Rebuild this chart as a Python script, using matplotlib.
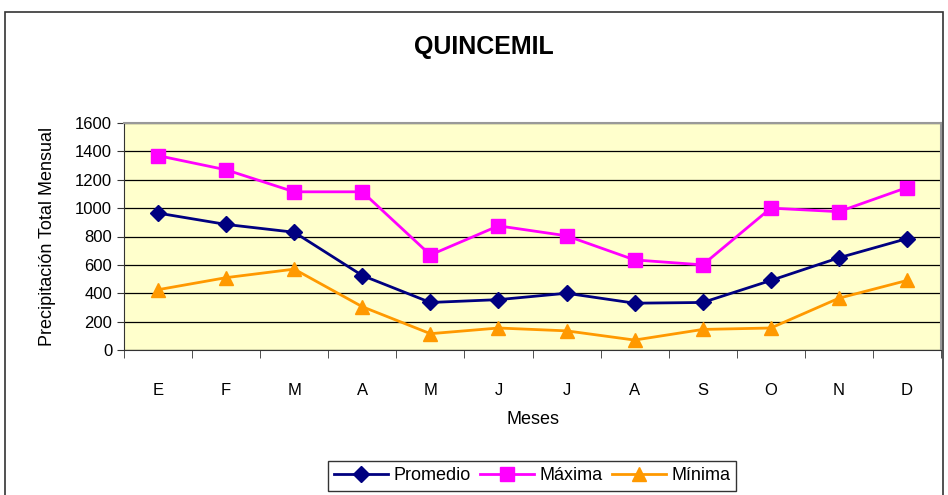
import matplotlib.pyplot as plt
from matplotlib.patches import Rectangle

plt.rcParams['font.family'] = ['Liberation Sans', 'DejaVu Sans']

meses = ["E", "F", "M", "A", "M", "J", "J", "A", "S", "O", "N", "D"]
promedio = [965, 885, 830, 525, 335, 355, 400, 330, 335, 490, 650, 785]
maxima = [1370, 1270, 1115, 1115, 670, 875, 805, 635, 600, 1000, 975, 1145]
minima = [425, 510, 570, 305, 115, 155, 135, 70, 145, 155, 365, 490]

fig = plt.figure(figsize=(9.48, 4.95), dpi=100)
# marco exterior del grafico
fig.patches.append(Rectangle((5 / 948, -0.05), 938 / 948, 1 - 12 / 495 + 0.05,
                             transform=fig.transFigure, fill=False,
                             edgecolor='#333333', linewidth=1.2))

ax = fig.add_axes([124 / 948, 1 - 350 / 495, (941 - 124) / 948, (350 - 123) / 495])
ax.set_facecolor('#FFFFCC')

x = list(range(len(meses)))
ax.plot(x, promedio, color='#000080', marker='D', markersize=8, linewidth=2, label='Promedio')
ax.plot(x, maxima, color='#FF00FF', marker='s', markersize=10, linewidth=2, label='Máxima')
ax.plot(x, minima, color='#FF9900', marker='^', markersize=10, linewidth=2, label='Mínima')

ax.set_xlim(-0.5, len(meses) - 0.5)
ax.set_ylim(0, 1600)
ax.set_yticks(range(0, 1601, 200))
ax.set_xticks(x)
ax.set_xticklabels(meses)
ax.set_xticks([i - 0.5 for i in range(len(meses) + 1)], minor=True)
ax.tick_params(axis='x', which='major', length=0, pad=24, labelsize=12)
ax.tick_params(axis='x', which='minor', length=6, direction='out', color='#333333')
ax.tick_params(axis='y', length=5, direction='out', labelsize=12, color='#333333')
ax.grid(axis='y', color='black', linewidth=0.9)
ax.set_axisbelow(True)

for side in ['top', 'right']:
    ax.spines[side].set_color('#999999')
    ax.spines[side].set_linewidth(1.5)
for side in ['left', 'bottom']:
    ax.spines[side].set_color('#333333')

ax.set_xlabel('Meses', fontsize=13, labelpad=9)
ax.set_ylabel('Precipitación Total Mensual', fontsize=13, labelpad=14)

fig.text(484 / 948, 1 - 47 / 495, 'QUINCEMIL', ha='center', va='center',
         fontsize=18, fontweight='bold')

leg = fig.legend(loc='center', bbox_to_anchor=(532 / 948, 1 - 476 / 495), ncol=3,
                 frameon=True, fancybox=False, edgecolor='black', fontsize=13,
                 handlelength=3.0, columnspacing=0.5, handletextpad=0.3,
                 borderpad=0.35, markerscale=1.0)
leg.get_frame().set_linewidth(1)

fig.savefig('out.png', dpi=100)
